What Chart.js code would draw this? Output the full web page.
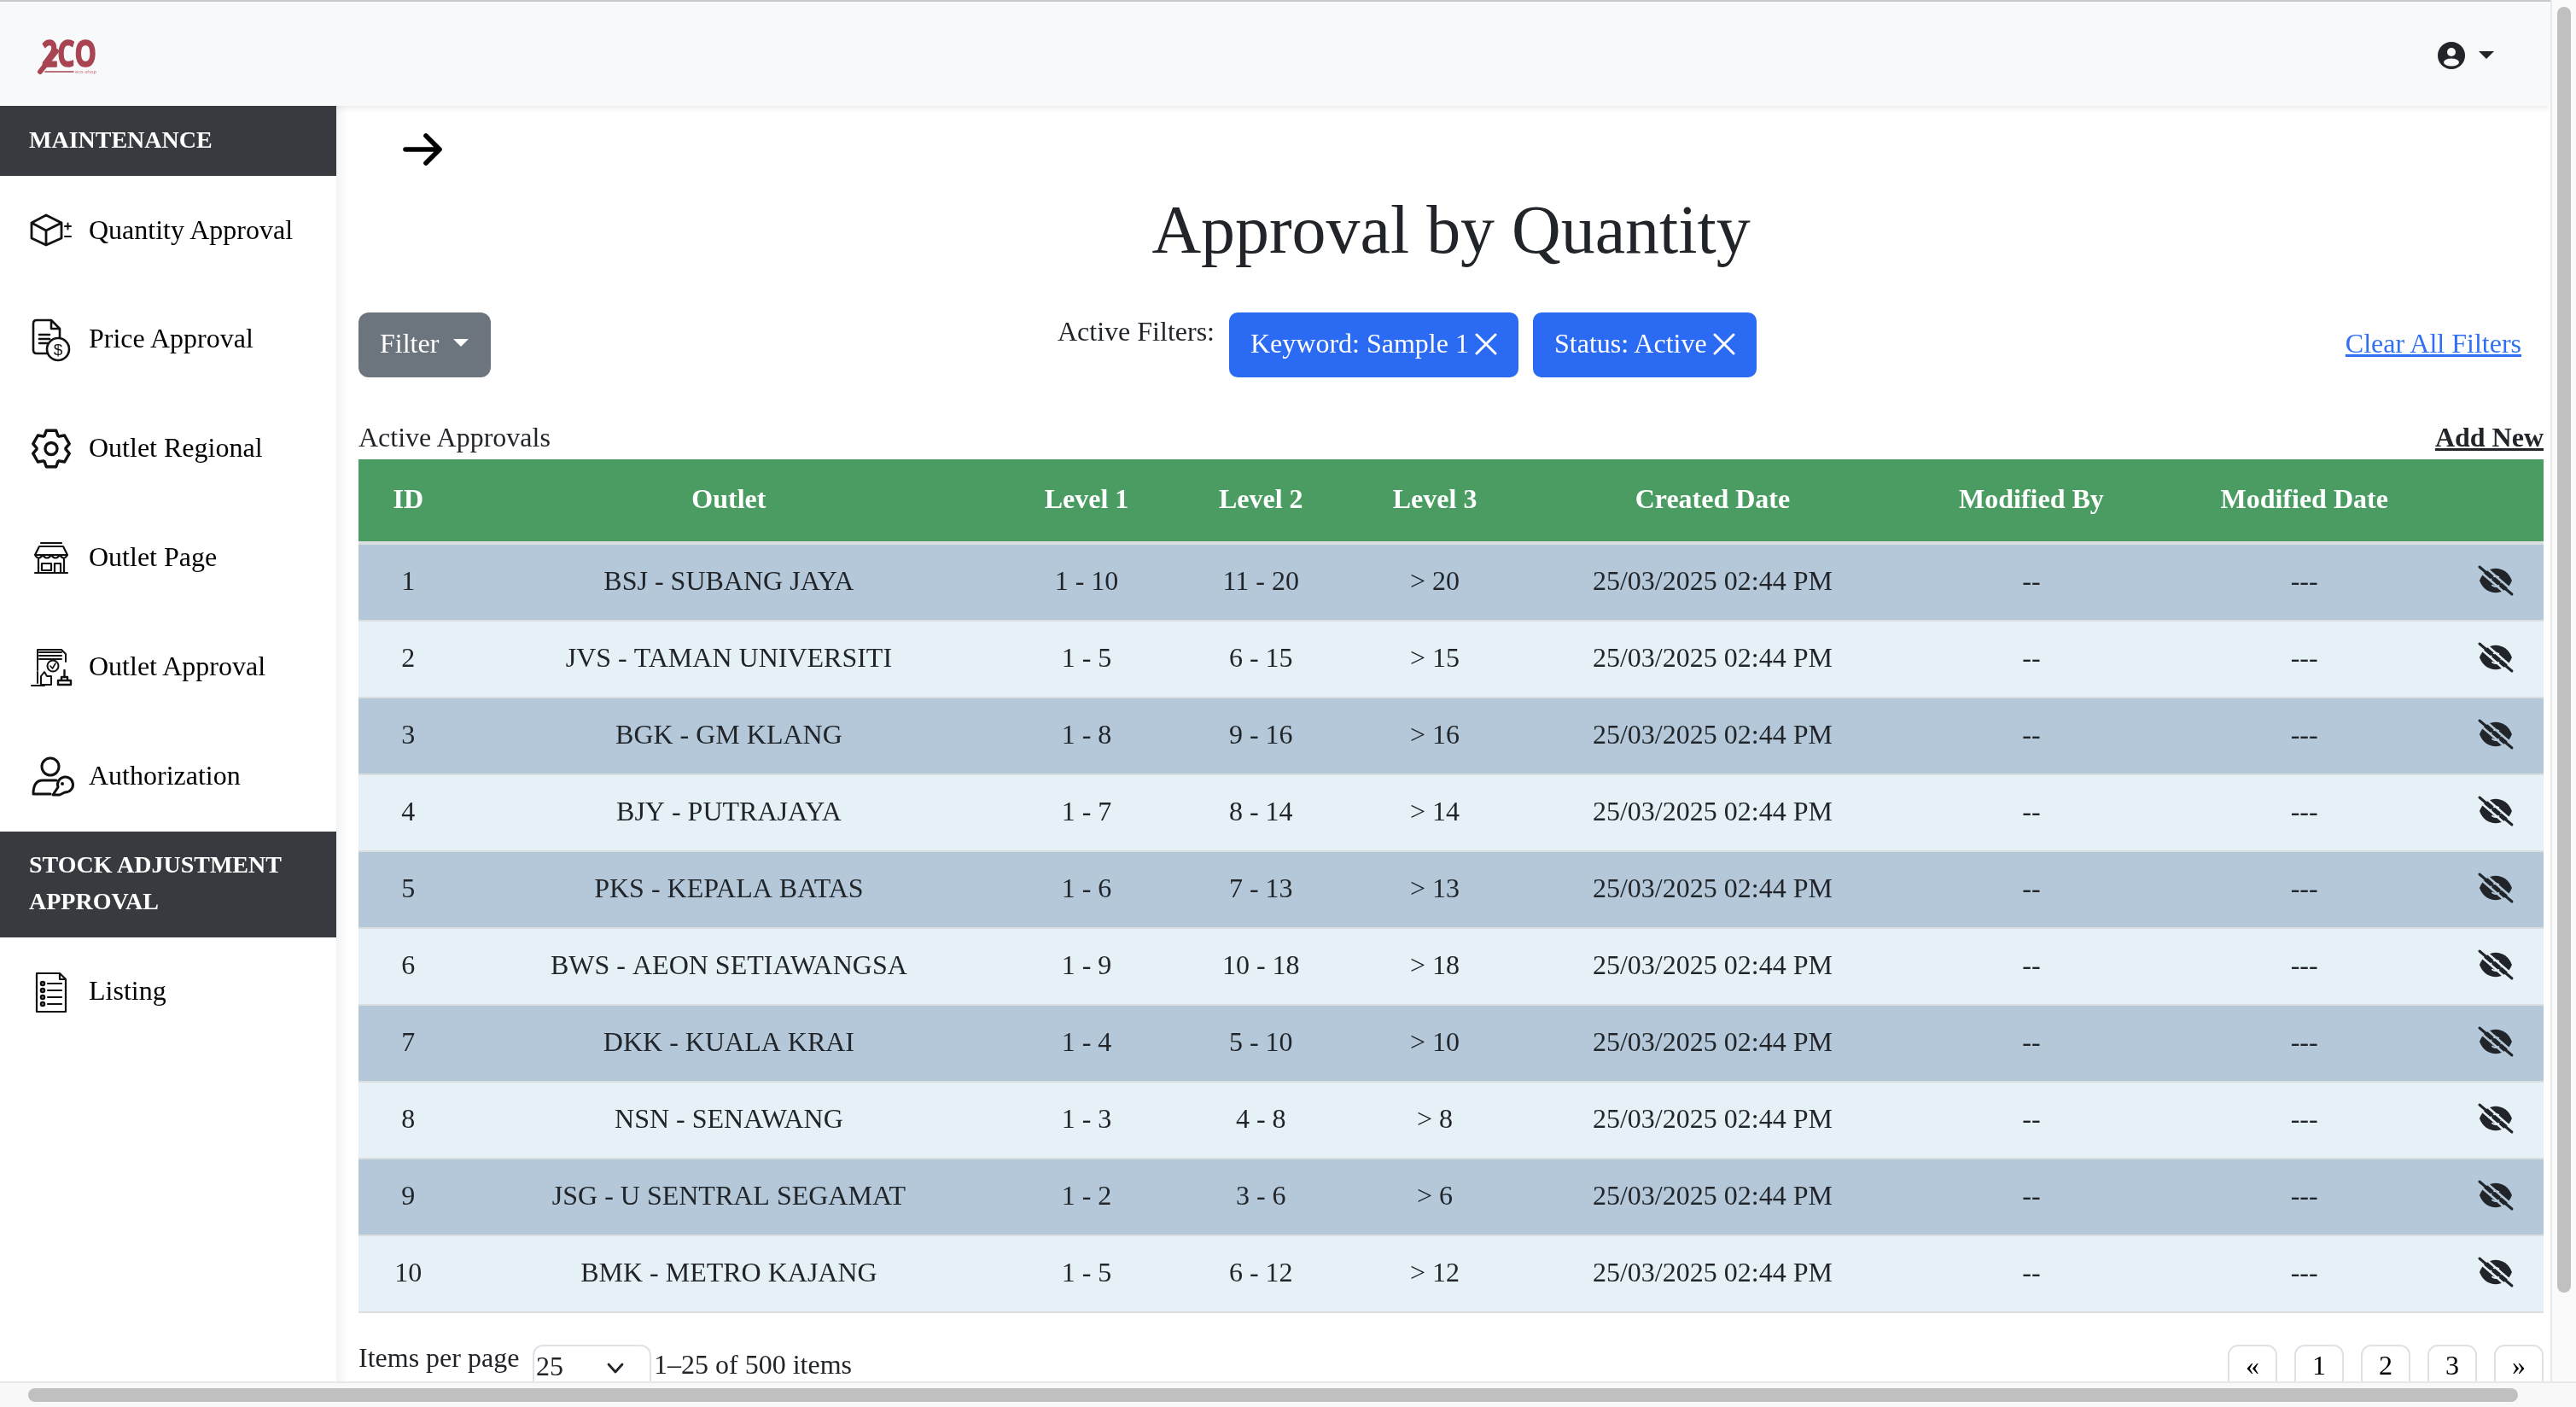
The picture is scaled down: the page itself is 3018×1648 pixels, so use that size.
<!DOCTYPE html>
<html><head><meta charset="utf-8"><title>Approval by Quantity</title>
<script src="https://cdn.jsdelivr.net/npm/chart.js@4"></script>
<style>
html,body{margin:0;padding:0;width:3018px;height:1648px;overflow:hidden;background:#fff;font-family:"Liberation Serif",serif;color:#212529}
.box{position:absolute;box-sizing:border-box}
.t{position:absolute;white-space:nowrap;line-height:1}
canvas{position:absolute;display:block}
</style></head><body>
<div id="page" class="box" style="left:0;top:0;width:3018px;height:1648px;overflow:hidden">
  <div id="layer" class="box" style="left:0;top:0;width:2988px;height:1618px;overflow:hidden;background:#fff">
    <div class="box" style="left:394px;top:124px;width:14px;height:1494px;background:linear-gradient(90deg,#f2f4f5,#fff)"></div>
    <div class="box" style="left:0;top:0;width:2988px;height:124px;background:#f8f9fa;border-top:2px solid #c8c9cc;box-shadow:0 3px 6px rgba(0,0,0,.07)"></div>
    <div class="box" style="left:0;top:124px;width:394px;height:82px;background:#373b3f"></div>
    <div class="box" style="left:0;top:974px;width:394px;height:124px;background:#373b3f"></div>
    <div class="box" style="left:420px;top:366px;width:155px;height:76px;background:#6c757d;border-radius:12px"></div>
    <div class="box" style="left:1440px;top:366px;width:339px;height:76px;background:#2b6bf3;border-radius:10px"></div>
    <div class="box" style="left:1796px;top:366px;width:262px;height:76px;background:#2b6bf3;border-radius:10px"></div>
    <div class="box" style="left:420px;top:634px;width:2560px;height:904px;background:#dcdfe2"></div>
    <canvas id="headChart" width="2560" height="96" style="left:420px;top:538px"></canvas>
    <canvas id="bodyChart" width="2560" height="900" style="left:420px;top:637px"></canvas>
    <div class="box" style="left:624px;top:1575px;width:139px;height:70px;border:2px solid #dee2e6;border-radius:12px"></div>
    <svg id="icons" class="box" width="3018" height="1648" viewBox="0 0 3018 1648" style="left:0;top:0" fill="none" stroke="#111" stroke-width="2.6" stroke-linejoin="round" stroke-linecap="round">
      <!-- logo -->
      <path d="M47 84 L66 60" stroke="#a94452" stroke-width="6"/>
      <path d="M53 84 H86" stroke="#a94452" stroke-width="1.6"/>
      <text x="49" y="78" font-family="Open Sans" font-weight="700" font-size="43" fill="#a94452" stroke="#a94452" stroke-width="1.6" textLength="64" lengthAdjust="spacingAndGlyphs">2CO</text>
      <text x="88" y="86" font-family="Open Sans" font-size="6" fill="#c26a76" stroke="none" textLength="25" lengthAdjust="spacingAndGlyphs">eco-shop</text>
      <!-- user menu -->
      <circle cx="2872" cy="65" r="16" fill="#212529" stroke="none"/>
      <circle cx="2872" cy="61" r="5" fill="#f8f9fa" stroke="none"/>
      <ellipse cx="2872" cy="73" rx="9" ry="4.5" fill="#f8f9fa" stroke="none"/>
      <path d="M2904 60H2922L2913 69Z" fill="#212529" stroke="none"/>
      <!-- arrow -->
      <path d="M475 175H514M499 159L515 175L499 191" stroke="#000" stroke-width="5.6"/>
      <!-- filter caret -->
      <path d="M531 397H549L540 406Z" fill="#fff" stroke="none"/>
      <!-- chip x -->
      <path d="M1730 392L1752 414M1752 392L1730 414M2009 392L2031 414M2031 392L2009 414" stroke="#fff" stroke-width="3"/>
      <!-- cube -->
      <path d="M54 252L72 261V279L54 287L37 279V261ZM37 261L54 270L72 261M54 270V287" stroke-width="2.8"/>
      <path d="M76 265H83M79.5 261.500V268.500M76 277H83" stroke-width="2"/>
      <!-- doc dollar -->
      <path d="M68 414H43Q39 414 39 410V379Q39 375 43 375H60L70 385V396M60 375V385H70M46 392H58M46 397H58M46 402H56"/>
      <circle cx="68" cy="409" r="13" fill="#fff"/>
      <text x="68" y="416" font-family="Liberation Sans" font-size="19" text-anchor="middle" fill="#111" stroke="none">$</text>
      <!-- store -->
      <path d="M48 636H72M46 640H74L79 650H41ZM41 650Q45 657 50 650Q55 657 60 650Q65 657 70 650Q75 657 79 650M45 655V670M75 655V670M41 671H79M49 660H60V668H49ZM64 660H71V670M64 660V670" stroke-width="2.2"/>
      <!-- approval -->
      <path d="M44 785V761H72L77 766V775M46 764H72M46 768H72M46 772H72" stroke-width="2"/>
      <circle cx="62" cy="780" r="6.500" stroke-width="2"/><path d="M59 780L61.500 783L65 777" stroke-width="1.6"/>
      <path d="M37 803H52M44 787V800M48 792L52 787L55 792H60V802H48Z" stroke-width="2"/>
      <path d="M68 802H83V797H68ZM72 797V793H79V797M75.500 793V785" stroke-width="2.4"/>
      <!-- user key -->
      <circle cx="59" cy="898" r="10" stroke-width="3"/>
      <path d="M66 914H50Q39 914 39 930H59" stroke-width="3"/>
      <path d="M62 931L68 922A9 9 0 1 1 76 928L70 931Z" stroke-width="3"/>
      <circle cx="73" cy="918" r="2" fill="#111" stroke="none"/>
      <!-- list -->
      <path d="M43 1140H70L77 1147V1185H43ZM70 1140V1147H77M56 1152H72M56 1160H72M56 1168H72M56 1176H72" stroke-width="2.2"/>
      <circle cx="50" cy="1152" r="2"/><circle cx="50" cy="1160" r="2"/><circle cx="50" cy="1168" r="2"/><circle cx="50" cy="1176" r="2"/>
      <!-- select chevron -->
      <path d="M713 1598L721 1607L729 1598" stroke="#212529" stroke-width="2.8"/>
    </svg>
  </div>
  <!-- scrollbars -->
  <div class="box" style="left:2988px;top:0;width:30px;height:1648px;background:#fafafa;border-left:2px solid #e8e8e8"></div>
  <div class="box" style="left:2996px;top:8px;width:16px;height:1506px;background:#c0c0c0;border-radius:8px"></div>
  <div class="box" style="left:0;top:1618px;width:3018px;height:30px;background:#f8f8f8;border-top:2px solid #e8e8e8"></div>
  <div class="box" style="left:33px;top:1626px;width:2917px;height:16px;background:#c0c0c0;border-radius:8px"></div>
</div>
<script>
// ---- table content ----
const tableColumns = ['ID','Outlet','Level 1','Level 2','Level 3','Created Date','Modified By','Modified Date',''];
const ids = ['1','2','3','4','5','6','7','8','9','10'];
const outlets = ['BSJ - SUBANG JAYA','JVS - TAMAN UNIVERSITI','BGK - GM KLANG','BJY - PUTRAJAYA','PKS - KEPALA BATAS','BWS - AEON SETIAWANGSA','DKK - KUALA KRAI','NSN - SENAWANG','JSG - U SENTRAL SEGAMAT','BMK - METRO KAJANG'];
const level1 = ['1 - 10','1 - 5','1 - 8','1 - 7','1 - 6','1 - 9','1 - 4','1 - 3','1 - 2','1 - 5'];
const level2 = ['11 - 20','6 - 15','9 - 16','8 - 14','7 - 13','10 - 18','5 - 10','4 - 8','3 - 6','6 - 12'];
const level3 = ['> 20','> 15','> 16','> 14','> 13','> 18','> 10','> 8','> 6','> 12'];
const createdDates = ids.map(() => '25/03/2025 02:44 PM');
const modifiedBy = ids.map(() => '--');
const modifiedDates = ids.map(() => '---');
const rowSpan = ids.map(() => 100);
const headerSpan = [100];
// ---- page text ----
const navItems = [['Quantity Approval',281],['Price Approval',408],['Outlet Regional',536],['Outlet Page',664],['Outlet Approval',792],['Authorization',920],['Listing',1172]];
const navHeads = [['MAINTENANCE',173],['STOCK ADJUSTMENT',1022],['APPROVAL',1065]];
const pagerLabels = ['«','1','2','3','»'];

const SERIF = '"Liberation Serif"';
const FS = 32;
const layer = document.getElementById('layer');
function text(str, x, base, size, o = {}) {
  const s = document.createElement('span');
  s.className = 't'; s.textContent = str;
  s.style.fontSize = size + 'px';
  s.style.top = (base - size * 0.891) + 'px';
  s.style.lineHeight = (size * 1.107) + 'px';
  s.style.color = o.color || '#212529';
  if (o.bold) s.style.fontWeight = 700;
  if (o.under) s.style.textDecoration = 'underline';
  if (o.center) { s.style.left = x + 'px'; s.style.transform = 'translateX(-50%)'; }
  else if (o.right) { s.style.right = (2988 - x) + 'px'; }
  else s.style.left = x + 'px';
  layer.appendChild(s);
}
navHeads.forEach(([n, b]) => text(n, 34, b, 28, {bold: true, color: '#fff'}));
navItems.forEach(([n, b]) => text(n, 104, b, FS, {color: '#000'}));
text('Approval by Quantity', 1700, 296, 79.9, {center: true});
text('Filter', 445, 414, FS, {color: '#fff'});
text('Active Filters:', 1239, 400, FS);
text('Keyword: Sample 1', 1465, 414, FS, {color: '#fff'});
text('Status: Active', 1821, 414, FS, {color: '#fff'});
text('Clear All Filters', 2954, 414, FS, {right: true, color: '#3070f5', under: true});
text('Active Approvals', 420, 524, FS);
text('Add New', 2980, 524, FS, {right: true, bold: true, under: true});
text('Items per page', 420, 1602, FS);
text('25', 628, 1612, FS);
text('1–25 of 500 items', 766, 1610, FS);
pagerLabels.forEach((p, i) => {
  const left = 2610 + i * 78;
  const d = document.createElement('div');
  d.className = 'box';
  d.style.cssText = `left:${left}px;top:1575px;width:58px;height:70px;border:2px solid #dee2e6;border-radius:12px`;
  layer.appendChild(d);
  text(p, left + 29, 1611, FS, {center: true, color: '#000'});
});

// gear outline icon
(function () {
  const pts = [];
  const cx = 60, cy = 525.5;
  for (let i = 0; i < 6; i++) {
    const a = i * Math.PI / 3 - Math.PI / 2;
    [[-0.48, 17], [-0.26, 22], [0.26, 22], [0.48, 17]].forEach(([d, r]) => {
      pts.push((cx + r * Math.cos(a + d)).toFixed(1) + ',' + (cy + r * Math.sin(a + d)).toFixed(1));
    });
  }
  const ns = 'http://www.w3.org/2000/svg', svg = document.getElementById('icons');
  const poly = document.createElementNS(ns, 'polygon');
  poly.setAttribute('points', pts.join(' ')); poly.setAttribute('stroke-width', '3.4');
  const c = document.createElementNS(ns, 'circle');
  c.setAttribute('cx', cx); c.setAttribute('cy', cy); c.setAttribute('r', 7); c.setAttribute('stroke-width', '3.4');
  svg.appendChild(poly); svg.appendChild(c);
})();

// ---- table via Chart.js ----
const columnCenters = [2.28, 16.95, 33.32, 41.3, 49.26, 61.97, 76.56, 89.05, 97.81];
const ROW_ODD = '#b4c8d9', ROW_EVEN = '#e6f1f7', HEAD = '#4a9c62';

function eye(ctx, cx, cy, bg) {
  ctx.save();
  ctx.fillStyle = '#212529';
  ctx.beginPath();
  ctx.moveTo(cx - 19, cy);
  ctx.bezierCurveTo(cx - 12, cy - 19, cx + 12, cy - 19, cx + 19, cy);
  ctx.bezierCurveTo(cx + 12, cy + 19, cx - 12, cy + 19, cx - 19, cy);
  ctx.fill();
  ctx.strokeStyle = bg; ctx.lineWidth = 2;
  ctx.beginPath(); ctx.arc(cx, cy + 1, 6, 0.2, 2.4); ctx.stroke();
  ctx.beginPath(); ctx.arc(cx, cy + 1, 6, 3.4, 5.4); ctx.stroke();
  ctx.lineCap = 'round';
  ctx.lineWidth = 2.5; ctx.beginPath(); ctx.moveTo(cx - 20, cy - 12); ctx.lineTo(cx + 16, cy + 19); ctx.stroke();
  ctx.beginPath(); ctx.moveTo(cx - 16, cy - 19); ctx.lineTo(cx + 21, cy + 13); ctx.stroke();
  ctx.strokeStyle = '#212529'; ctx.lineWidth = 3;
  ctx.beginPath(); ctx.moveTo(cx - 19, cy - 16); ctx.lineTo(cx + 19, cy + 16); ctx.stroke();
  ctx.restore();
}

const baseOptions = {
  indexAxis: 'y', responsive: false, animation: false, devicePixelRatio: 1,
  layout: {padding: 0},
  plugins: {legend: {display: false}, tooltip: {enabled: false}, title: {display: false}},
  scales: {
    x: {type: 'linear', min: 0, max: 100, display: false},
    y: {type: 'category', display: false}
  }
};

const headLabels = {
  id: 'headLabels',
  afterDatasetsDraw(c) {
    const g = c.ctx, sx = c.scales.x;
    g.save();
    g.font = `bold ${FS}px ${SERIF}`; g.fillStyle = '#fff';
    g.textAlign = 'center'; g.textBaseline = 'alphabetic';
    tableColumns.forEach((n, i) => g.fillText(n, sx.getPixelForValue(columnCenters[i]), 57));
    g.restore();
  }
};
const bodyLabels = {
  id: 'bodyLabels',
  afterDatasetsDraw(c) {
    const g = c.ctx, sx = c.scales.x, sy = c.scales.y;
    const cols = [ids, outlets, level1, level2, level3, createdDates, modifiedBy, modifiedDates];
    g.save();
    g.font = `${FS}px ${SERIF}`; g.fillStyle = '#212529';
    g.textAlign = 'center'; g.textBaseline = 'alphabetic';
    ids.forEach((_, r) => {
      const y = sy.getPixelForValue(r);
      cols.forEach((col, i) => g.fillText(col[r], sx.getPixelForValue(columnCenters[i]), y + 9));
      eye(g, sx.getPixelForValue(columnCenters[8]), y - 2, r % 2 ? ROW_EVEN : ROW_ODD);
    });
    g.restore();
  }
};

new Chart(document.getElementById('headChart'), {
  type: 'bar',
  data: {labels: ['Header'], datasets: [{data: headerSpan, backgroundColor: HEAD, barPercentage: 1, categoryPercentage: 1}]},
  options: baseOptions,
  plugins: [headLabels]
});
new Chart(document.getElementById('bodyChart'), {
  type: 'bar',
  data: {labels: ids, datasets: [{data: rowSpan, backgroundColor: ids.map((_, i) => i % 2 ? ROW_EVEN : ROW_ODD), barPercentage: 88 / 90, categoryPercentage: 1}]},
  options: baseOptions,
  plugins: [bodyLabels]
});
</script>
</body></html>
